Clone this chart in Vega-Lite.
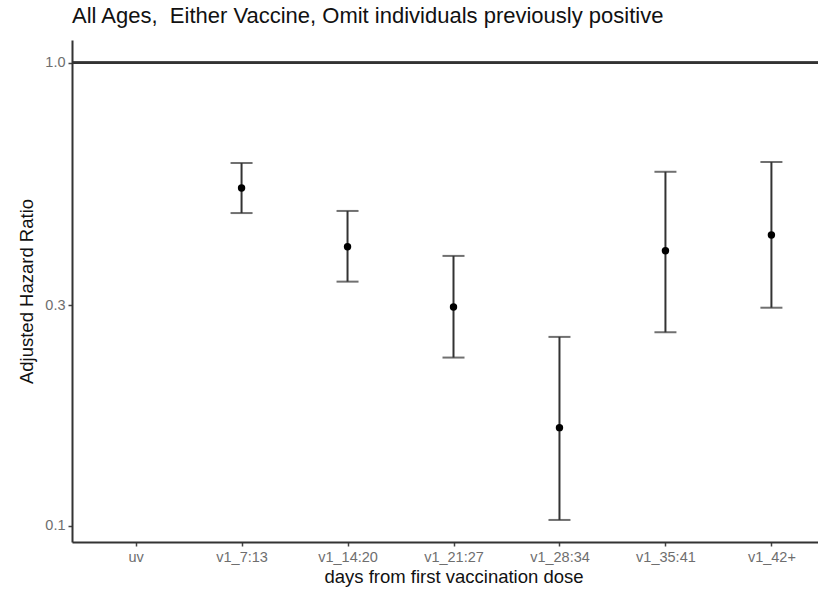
{
  "$schema": "https://vega.github.io/schema/vega-lite/v6.json",
  "width": 763,
  "height": 502,
  "autosize": {"type": "none"},
  "padding": {"left": 72, "top": 40, "right": 0, "bottom": 47},
  "background": "white",
  "title": {
    "text": "All Ages, \u00a0Either Vaccine, Omit individuals previously positive",
    "anchor": "start",
    "frame": "group",
    "offset": 12,
    "font": "Liberation Sans",
    "fontSize": 22,
    "fontWeight": "normal",
    "color": "#111111"
  },
  "config": {
    "view": {"stroke": null},
    "axis": {
      "labelFont": "Liberation Sans",
      "titleFont": "Liberation Sans",
      "labelFontSize": 14.5,
      "labelColor": "#6e6e6e",
      "titleFontSize": 18.5,
      "titleFontWeight": "normal",
      "titleColor": "#111111",
      "domainColor": "#333333",
      "domainWidth": 2,
      "tickColor": "#444444",
      "tickWidth": 1.5,
      "tickSize": 4,
      "grid": false
    }
  },
  "data": {
    "values": [
      {"period": "uv"},
      {"period": "v1_7:13", "est": 0.537, "lo": 0.474, "hi": 0.608},
      {"period": "v1_14:20", "est": 0.401, "lo": 0.337, "hi": 0.479},
      {"period": "v1_21:27", "est": 0.297, "lo": 0.231, "hi": 0.383},
      {"period": "v1_28:34", "est": 0.163, "lo": 0.103, "hi": 0.256},
      {"period": "v1_35:41", "est": 0.393, "lo": 0.262, "hi": 0.582},
      {"period": "v1_42+", "est": 0.425, "lo": 0.296, "hi": 0.611}
    ]
  },
  "encoding": {
    "x": {
      "field": "period",
      "type": "nominal",
      "sort": null,
      "scale": {"type": "point", "padding": 0.6, "domain": ["uv", "v1_7:13", "v1_14:20", "v1_21:27", "v1_28:34", "v1_35:41", "v1_42+"]},
      "axis": {"title": "days from first vaccination dose", "labelAngle": 0, "labelPadding": 4, "titlePadding": 4}
    }
  },
  "layer": [
    {
      "mark": {"type": "rule", "color": "#333333", "strokeWidth": 2.2},
      "encoding": {"y": {"datum": 1.0, "type": "quantitative"}, "x": null}
    },
    {
      "mark": {"type": "rule", "color": "#333333", "strokeWidth": 2},
      "encoding": {
        "y": {
          "field": "lo",
          "type": "quantitative",
          "scale": {"type": "log", "domain": [0.0923, 1.121], "nice": false, "zero": false},
          "axis": {"title": "Adjusted Hazard Ratio", "values": [0.1, 0.3, 1.0], "format": ".1f", "titlePadding": 8, "labelPadding": 3}
        },
        "y2": {"field": "hi"}
      }
    },
    {
      "mark": {"type": "tick", "orient": "horizontal", "color": "#333333", "size": 22, "thickness": 2},
      "encoding": {"y": {"field": "lo", "type": "quantitative"}}
    },
    {
      "mark": {"type": "tick", "orient": "horizontal", "color": "#333333", "size": 22, "thickness": 2},
      "encoding": {"y": {"field": "hi", "type": "quantitative"}}
    },
    {
      "mark": {"type": "point", "filled": true, "color": "#000000", "size": 55, "opacity": 1},
      "encoding": {"y": {"field": "est", "type": "quantitative"}}
    }
  ]
}
